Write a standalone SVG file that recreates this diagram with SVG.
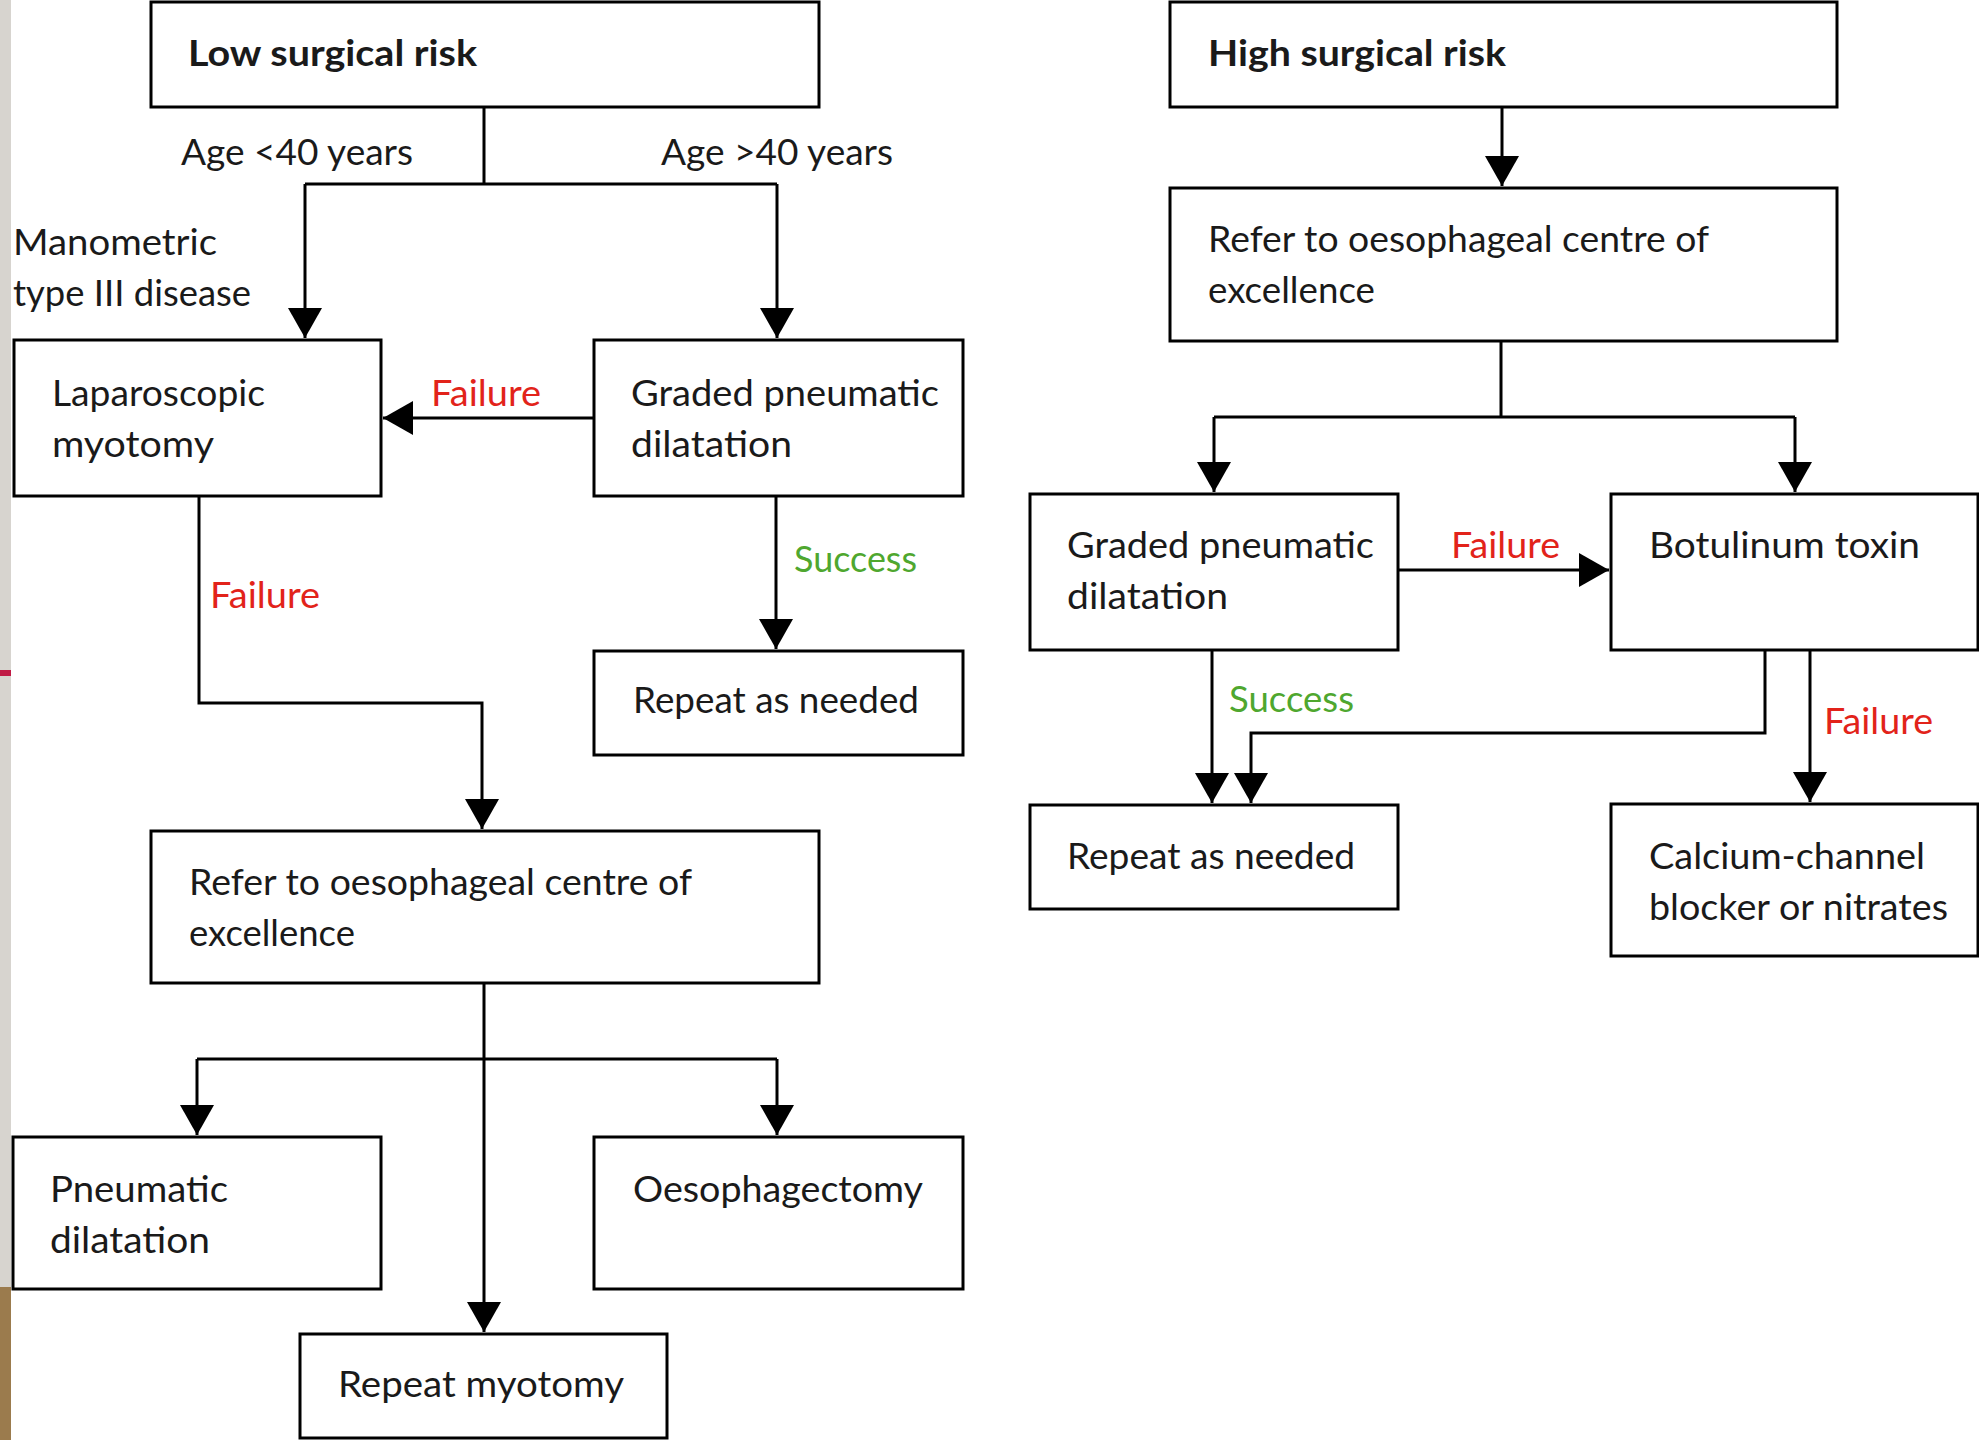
<svg xmlns="http://www.w3.org/2000/svg" width="1979" height="1440" viewBox="0 0 1979 1440">
<style>
.box{fill:#fff;stroke:#000;stroke-width:3}
.t{font-family:Lato,"Liberation Sans",sans-serif;font-size:37px;fill:#1a1a1a}
.b{font-weight:700}
.red{fill:#e2231a}
.green{fill:#4fa72f}
.ln{fill:none;stroke:#000;stroke-width:3}
.ar{fill:none;stroke:#000;stroke-width:3;marker-end:url(#ah)}
</style>
<defs>
<marker id="ah" markerUnits="userSpaceOnUse" markerWidth="30" markerHeight="34" refX="30" refY="17" orient="auto"><path d="M0,0 L30,17 L0,34 Z" fill="#000"/></marker>
</defs>
<rect x="0" y="0" width="1979" height="1440" fill="#fff"/>
<g id="edge-strip">
<rect x="0" y="0" width="11" height="1287" fill="#d7d4cf"/>
<rect x="0" y="670" width="11" height="6" fill="#c01a45"/>
<rect x="0" y="1287" width="11" height="153" fill="#9b7b4d"/>
</g>
<g id="connectors">
<path class="ln" d="M484,107 V184 M305,184 H777"/>
<path class="ar" d="M305,184 V338"/>
<path class="ar" d="M777,184 V338"/>
<path class="ar" d="M594,418 H383"/>
<path class="ar" d="M199,496 V703 H482 V829"/>
<path class="ar" d="M776,496 V649"/>
<path class="ln" d="M484,983 V1059 M197,1059 H777"/>
<path class="ar" d="M484,1059 V1332"/>
<path class="ar" d="M197,1059 V1135"/>
<path class="ar" d="M777,1059 V1135"/>
<path class="ar" d="M1502,107 V186"/>
<path class="ln" d="M1501,341 V417 M1214,417 H1795"/>
<path class="ar" d="M1214,417 V492"/>
<path class="ar" d="M1795,417 V492"/>
<path class="ar" d="M1398,570 H1609"/>
<path class="ar" d="M1212,650 V803"/>
<path class="ar" d="M1765,650 V733 H1251 V803"/>
<path class="ar" d="M1810,650 V802"/>
<text class="t" x="181" y="165" textLength="232" lengthAdjust="spacingAndGlyphs">Age &lt;40 years</text>
<text class="t" x="661" y="165" textLength="232" lengthAdjust="spacingAndGlyphs">Age &gt;40 years</text>
<text class="t" x="13" y="255" textLength="204" lengthAdjust="spacingAndGlyphs">Manometric</text>
<text class="t" x="13" y="306" textLength="238" lengthAdjust="spacingAndGlyphs">type III disease</text>
<text class="t red" x="431" y="406" textLength="110" lengthAdjust="spacingAndGlyphs">Failure</text>
<text class="t red" x="210" y="608" textLength="110" lengthAdjust="spacingAndGlyphs">Failure</text>
<text class="t green" x="794" y="572" textLength="123" lengthAdjust="spacingAndGlyphs">Success</text>
<text class="t red" x="1451" y="558" textLength="109" lengthAdjust="spacingAndGlyphs">Failure</text>
<text class="t green" x="1229" y="712" textLength="125" lengthAdjust="spacingAndGlyphs">Success</text>
<text class="t red" x="1824" y="734" textLength="109" lengthAdjust="spacingAndGlyphs">Failure</text>
</g>
<g id="low-risk"><rect class="box" x="151" y="2" width="668" height="105"/><text class="t b" x="188" y="66" textLength="289" lengthAdjust="spacingAndGlyphs">Low surgical risk</text></g>
<g id="high-risk"><rect class="box" x="1170" y="2" width="667" height="105"/><text class="t b" x="1208" y="66" textLength="298" lengthAdjust="spacingAndGlyphs">High surgical risk</text></g>
<g id="lap-myotomy"><rect class="box" x="14" y="340" width="367" height="156"/><text class="t" x="52" y="406" textLength="213" lengthAdjust="spacingAndGlyphs">Laparoscopic</text><text class="t" x="52" y="457" textLength="162" lengthAdjust="spacingAndGlyphs">myotomy</text></g>
<g id="graded-left"><rect class="box" x="594" y="340" width="369" height="156"/><text class="t" x="631" y="406" textLength="308" lengthAdjust="spacingAndGlyphs">Graded pneumatic</text><text class="t" x="631" y="457" textLength="161" lengthAdjust="spacingAndGlyphs">dilatation</text></g>
<g id="repeat-left"><rect class="box" x="594" y="651" width="369" height="104"/><text class="t" x="633" y="713" textLength="286" lengthAdjust="spacingAndGlyphs">Repeat as needed</text></g>
<g id="refer-left"><rect class="box" x="151" y="831" width="668" height="152"/><text class="t" x="189" y="895" textLength="503" lengthAdjust="spacingAndGlyphs">Refer to oesophageal centre of</text><text class="t" x="189" y="946" textLength="166" lengthAdjust="spacingAndGlyphs">excellence</text></g>
<g id="pneumatic"><rect class="box" x="13" y="1137" width="368" height="152"/><text class="t" x="50" y="1202" textLength="178" lengthAdjust="spacingAndGlyphs">Pneumatic</text><text class="t" x="50" y="1253" textLength="160" lengthAdjust="spacingAndGlyphs">dilatation</text></g>
<g id="oesophagectomy"><rect class="box" x="594" y="1137" width="369" height="152"/><text class="t" x="633" y="1202" textLength="290" lengthAdjust="spacingAndGlyphs">Oesophagectomy</text></g>
<g id="repeat-myotomy"><rect class="box" x="300" y="1334" width="367" height="104"/><text class="t" x="338" y="1397" textLength="286" lengthAdjust="spacingAndGlyphs">Repeat myotomy</text></g>
<g id="refer-right"><rect class="box" x="1170" y="188" width="667" height="153"/><text class="t" x="1208" y="252" textLength="501" lengthAdjust="spacingAndGlyphs">Refer to oesophageal centre of</text><text class="t" x="1208" y="303" textLength="167" lengthAdjust="spacingAndGlyphs">excellence</text></g>
<g id="graded-right"><rect class="box" x="1030" y="494" width="368" height="156"/><text class="t" x="1067" y="558" textLength="307" lengthAdjust="spacingAndGlyphs">Graded pneumatic</text><text class="t" x="1067" y="609" textLength="161" lengthAdjust="spacingAndGlyphs">dilatation</text></g>
<g id="botulinum"><rect class="box" x="1611" y="494" width="367" height="156"/><text class="t" x="1649" y="558" textLength="271" lengthAdjust="spacingAndGlyphs">Botulinum toxin</text></g>
<g id="repeat-right"><rect class="box" x="1030" y="805" width="368" height="104"/><text class="t" x="1067" y="869" textLength="288" lengthAdjust="spacingAndGlyphs">Repeat as needed</text></g>
<g id="calcium"><rect class="box" x="1611" y="804" width="367" height="152"/><text class="t" x="1649" y="869" textLength="276" lengthAdjust="spacingAndGlyphs">Calcium-channel</text><text class="t" x="1649" y="920" textLength="299" lengthAdjust="spacingAndGlyphs">blocker or nitrates</text></g>
</svg>
